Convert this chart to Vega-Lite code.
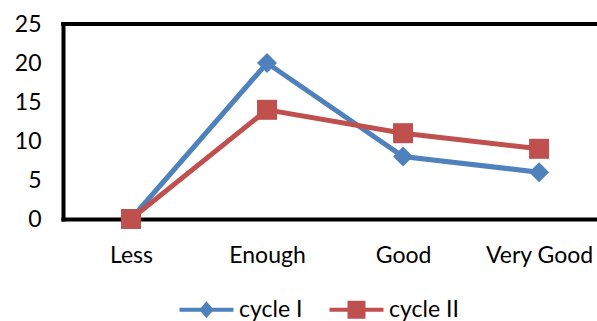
{
  "$schema": "https://vega.github.io/schema/vega-lite/v6.json",
  "width": 534,
  "height": 195,
  "autosize": "none",
  "padding": {"left": 63, "top": 24, "right": 0, "bottom": 102},
  "background": "white",
  "config": {"view": {"stroke": null}, "font": "Lato"},
  "data": {"values": [
    {"level": "Less", "series": "cycle I", "value": 0},
    {"level": "Enough", "series": "cycle I", "value": 20},
    {"level": "Good", "series": "cycle I", "value": 8},
    {"level": "Very Good", "series": "cycle I", "value": 6},
    {"level": "Less", "series": "cycle II", "value": 0},
    {"level": "Enough", "series": "cycle II", "value": 14},
    {"level": "Good", "series": "cycle II", "value": 11},
    {"level": "Very Good", "series": "cycle II", "value": 9}
  ]},
  "encoding": {
    "x": {"field": "level", "type": "nominal", "sort": ["Less", "Enough", "Good", "Very Good"],
      "scale": {"type": "point", "padding": 0.463, "align": 0.54},
      "axis": {"labelAngle": 0, "title": null, "ticks": false, "domainColor": "black", "domainWidth": 4, "domainCap": "square",
        "labelFontSize": 23, "labelPadding": 25, "labelColor": "black"}},
    "y": {"field": "value", "type": "quantitative",
      "scale": {"domain": [0, 25], "nice": false},
      "axis": {"values": [0, 5, 10, 15, 20, 25], "grid": false, "ticks": false, "title": null, "domainColor": "black", "domainWidth": 4, "domainCap": "square",
        "labelFontSize": 23, "labelPadding": 22, "labelColor": "black"}}
  },
  "layer": [
    {"mark": {"type": "rule", "color": "black", "strokeWidth": 4, "strokeCap": "square"},
     "encoding": {"y": {"datum": 25}, "x": null}},
    {"mark": {"type": "line", "strokeWidth": 5},
     "encoding": {
       "color": {"field": "series", "type": "nominal",
         "scale": {"domain": ["cycle I", "cycle II"], "range": ["#4F81BD", "#C0504D"]},
         "legend": {"orient": "none", "legendX": 132, "legendY": 274, "direction": "horizontal", "title": null,
           "labelFontSize": 23, "labelColor": "black", "symbolSize": 324, "labelOffset": 21, "columnPadding": 26,
           "encode": {"symbols": {"update": {
             "shape": {"signal": "datum.value == 'cycle I' ? 'M-3,-0.22L3,-0.22L3,0.22L-3,0.22Z M-0.8,0L0,-0.95L0.8,0L0,0.95Z' : 'M-3,-0.22L3,-0.22L3,0.22L-3,0.22Z M-1,-1L1,-1L1,1L-1,1Z'"},
             "fill": {"signal": "datum.value == 'cycle I' ? '#4F81BD' : '#C0504D'"},
             "fillOpacity": {"value": 1},
             "strokeWidth": {"value": 0}
           }}}}}
     }},
    {"mark": {"type": "point", "filled": true, "size": 400, "opacity": 1},
     "encoding": {
       "color": {"field": "series", "type": "nominal"},
       "shape": {"field": "series", "type": "nominal", "scale": {"range": ["diamond", "square"]}, "legend": null}
     }}
  ]
}
